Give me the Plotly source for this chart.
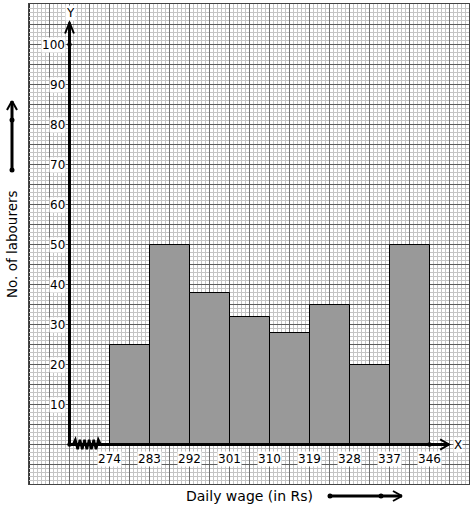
import plotly.graph_objects as go

# ---- data ----
bin_edges = [274, 283, 292, 301, 310, 319, 328, 337, 346]
labourers = [25, 50, 38, 32, 28, 35, 20, 50]
y_ticks = [10, 20, 30, 40, 50, 60, 70, 80, 90, 100]
x_title = "Daily wage (in Rs)"
y_title = "No. of labourers"

W, H = 474, 510
ML, MR, MT, MB = 29, 5, 4, 26
XU = 9 / 40      # x data units per pixel
YU = 1 / 4       # y data units per pixel
X0, X1 = 256 - 0.5 * XU, 355 - 0.5 * XU
Y0, Y1 = -10 + 0.5 * YU, 110 + 0.5 * YU
ORIGIN_X = 265
pw, ph = W - ML - MR, H - MT - MB


def px2paper(px, py):
    return (px - ML) / pw, (H - MB - py) / ph


def px2x(px):
    return X0 + (px - ML) * XU


widths = [bin_edges[i + 1] - bin_edges[i] for i in range(len(labourers))]
mids = [bin_edges[i] + widths[i] / 2 for i in range(len(labourers))]

fig = go.Figure()
fig.add_trace(go.Bar(
    x=mids, y=labourers, width=widths,
    marker=dict(color="#999999", line=dict(color="black", width=1)),
    hoverinfo="x+y",
))

shapes = []
# darker graph-paper lines every 9 x-units
gx = 256
while gx <= 355:
    shapes.append(dict(type="line", xref="x", yref="paper", x0=gx, x1=gx, y0=0, y1=1,
                       line=dict(color="#333333", width=1), layer="below"))
    gx += 9

ax_line = dict(color="black", width=3)
# y axis
shapes.append(dict(type="line", xref="x", yref="y", x0=ORIGIN_X, x1=ORIGIN_X,
                   y0=0, y1=105.5, line=ax_line, layer="above"))
shapes.append(dict(type="path", xref="x", yref="y",
                   path=f"M {ORIGIN_X-1},{105.5-2.75} L {ORIGIN_X},105.5 L {ORIGIN_X+1},{105.5-2.75}",
                   line=dict(color="black", width=2), layer="above"))
# x axis
xt = px2x(449)
shapes.append(dict(type="line", xref="x", yref="y", x0=ORIGIN_X, x1=xt,
                   y0=0, y1=0, line=ax_line, layer="above"))
shapes.append(dict(type="path", xref="x", yref="y",
                   path=f"M {xt-2},{1.3} L {xt},0 L {xt-2},{-1.3}",
                   line=dict(color="black", width=2), layer="above"))
# zigzag kink
zx0 = ORIGIN_X + 0.8
zx1 = bin_edges[0] - 2.0
n = 12
pts = []
for i in range(n + 1):
    xx = zx0 + (zx1 - zx0) * i / n
    yy = 0 if i in (0, n) else (1.2 if i % 2 else -1.2)
    pts.append(f"{xx:.3f},{yy}")
shapes.append(dict(type="path", xref="x", yref="y",
                   path="M " + " L ".join(pts),
                   line=dict(color="black", width=2.5), layer="above"))
# dots
for (dx, dy) in [(ORIGIN_X, 0), (ORIGIN_X, 100), (bin_edges[-1], 0)]:
    shapes.append(dict(type="circle", xref="x", yref="y",
                       x0=dx - 0.5, x1=dx + 0.5, y0=dy - 0.55, y1=dy + 0.55,
                       fillcolor="black", line=dict(color="black", width=0),
                       layer="above"))


def pline(p, q, w=2):
    a = px2paper(*p)
    b = px2paper(*q)
    return dict(type="line", xref="paper", yref="paper", x0=a[0], y0=a[1],
                x1=b[0], y1=b[1], line=dict(color="black", width=w))


def pdot(p, r=2.5):
    a = px2paper(p[0] - r, p[1] + r)
    b = px2paper(p[0] + r, p[1] - r)
    return dict(type="circle", xref="paper", yref="paper", x0=a[0], y0=a[1],
                x1=b[0], y1=b[1], fillcolor="black", line=dict(width=0))

# left vertical arrow (outside plot)
shapes += [pline((12, 170), (12, 101), 3), pline((7, 110), (12, 101)),
           pline((17, 110), (12, 101)), pdot((12, 170)), pdot((12, 120))]
# bottom horizontal arrow
shapes += [pline((330, 496), (402, 496), 3), pline((393, 491), (402, 496)),
           pline((393, 501), (402, 496)), pdot((330, 496)), pdot((381, 496))]

annotations = []
font = dict(family="DejaVu Sans", size=12, color="black")
for t in y_ticks:
    annotations.append(dict(x=ORIGIN_X, y=t, xref="x", yref="y", text=str(t),
                            showarrow=False, xanchor="right", xshift=-4,
                            bgcolor="white", font=font, borderpad=0))
for e in bin_edges:
    annotations.append(dict(x=e, y=0, xref="x", yref="y", text=str(e),
                            showarrow=False, yanchor="middle", yshift=-14,
                            bgcolor="white", font=font, borderpad=0))
annotations.append(dict(x=ORIGIN_X, y=108, xref="x", yref="y", text="Y",
                        showarrow=False, bgcolor="white", font=font, xshift=1, borderpad=0))
annotations.append(dict(x=px2x(458), y=0, xref="x", yref="y", text="X",
                        showarrow=False, bgcolor="white", font=font, borderpad=0))
xp = px2paper(249, 496)
annotations.append(dict(x=xp[0], y=xp[1], xref="paper", yref="paper", text=x_title,
                        showarrow=False, font=dict(family="DejaVu Sans", size=14, color="black"),
                        xanchor="center", yanchor="middle"))
yp = px2paper(12, 244)
annotations.append(dict(x=yp[0], y=yp[1], xref="paper", yref="paper", text=y_title,
                        showarrow=False, font=dict(family="DejaVu Sans", size=13.5, color="black"),
                        textangle=-90, xanchor="center", yanchor="middle"))

fig.update_layout(
    width=W, height=H,
    margin=dict(l=ML, r=MR, t=MT, b=MB, pad=0),
    paper_bgcolor="white", plot_bgcolor="white",
    showlegend=False, bargap=0,
    shapes=shapes, annotations=annotations,
    xaxis=dict(range=[X0, X1], tick0=256, dtick=4.5, showticklabels=False,
               ticks="", showgrid=True, gridcolor="#707070", gridwidth=1,
               zeroline=False, showline=True, mirror=True, linecolor="#444444",
               linewidth=1, fixedrange=True,
               minor=dict(tick0=256, dtick=0.9, showgrid=True, gridcolor="#c4c4c4",
                          gridwidth=1)),
    yaxis=dict(range=[Y0, Y1], tick0=-10, dtick=5, showticklabels=False,
               ticks="", showgrid=True, gridcolor="#5e5e5e", gridwidth=1,
               zeroline=False, showline=True, mirror=True, linecolor="#444444",
               linewidth=1, fixedrange=True,
               minor=dict(tick0=-10, dtick=1, showgrid=True, gridcolor="#c4c4c4",
                          gridwidth=1)),
)

fig.write_html("out.html", config={"displayModeBar": False},
               post_script="document.body.style.margin='0';document.body.style.overflow='hidden';")
